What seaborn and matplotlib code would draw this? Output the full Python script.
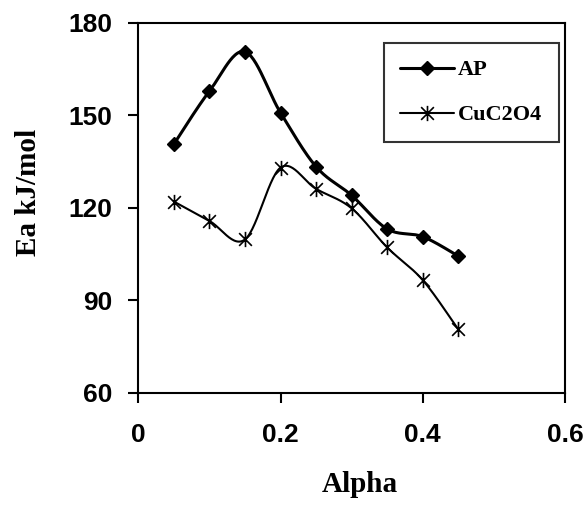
import numpy as np
import pandas as pd
import matplotlib
matplotlib.use("Agg")
import matplotlib.pyplot as plt
from matplotlib.path import Path
from matplotlib.lines import Line2D
import seaborn as sns

# values
alpha = [0.05, 0.10, 0.15, 0.20, 0.25, 0.30, 0.35, 0.40, 0.45]
ea_ap = [140.6, 157.8, 170.6, 150.8, 133.3, 124.0, 113.1, 110.6, 104.3]
ea_cuc2o4 = [122.0, 115.7, 109.7, 133.0, 126.1, 119.8, 107.1, 96.5, 80.5]

x_ticks = [0, 0.2, 0.4, 0.6]
x_tick_labels = ["0", "0.2", "0.4", "0.6"]
y_ticks = [60, 90, 120, 150, 180]


def smooth(xs, ys, n=30):
    # Excel-style smoothed line (Catmull-Rom through the points)
    p = np.column_stack([xs, ys]).astype(float)
    p = np.vstack([p[0], p, p[-1]])
    out = []
    t = np.linspace(0, 1, n)[:, None]
    for i in range(1, len(p) - 2):
        p0, p1, p2, p3 = p[i - 1], p[i], p[i + 1], p[i + 2]
        c1 = p1 + (p2 - p0) / 6
        c2 = p2 - (p3 - p1) / 6
        seg = ((1 - t) ** 3) * p1 + 3 * ((1 - t) ** 2) * t * c1 \
            + 3 * (1 - t) * t ** 2 * c2 + t ** 3 * p2
        out.append(seg if i == 1 else seg[1:])
    out = np.vstack(out)
    return pd.DataFrame({"x": out[:, 0], "y": out[:, 1]})


sns.set_style("ticks")
plt.rcParams["font.family"] = ["Liberation Sans", "DejaVu Sans"]
plt.rcParams["text.color"] = "black"
plt.rcParams["axes.labelcolor"] = "black"

# X with a vertical bar, like Excel's star marker
star = Path([(-1, -1), (1, 1), (-1, 1), (1, -1), (0, -1.2), (0, 1.2)],
            [Path.MOVETO, Path.LINETO, Path.MOVETO, Path.LINETO,
             Path.MOVETO, Path.LINETO])

fig = plt.figure(figsize=(5.84, 5.05), dpi=100)
ax = fig.add_axes([0.2368, 0.2224, 0.7307, 0.7326])

sns.lineplot(data=smooth(alpha, ea_ap), x="x", y="y", sort=False,
             estimator=None, color="black", linewidth=2.2, ax=ax)
sns.lineplot(data=smooth(alpha, ea_cuc2o4), x="x", y="y", sort=False,
             estimator=None, color="black", linewidth=1.5, ax=ax)
ax.plot(alpha, ea_ap, linestyle="none", marker="D", markersize=7,
        color="black")
ax.plot(alpha, ea_cuc2o4, linestyle="none", marker=star, markersize=11,
        markeredgewidth=1.2, color="black", markerfacecolor="none")

ax.set_xlim(0, 0.6)
ax.set_ylim(60, 180)
ax.set_xticks(x_ticks)
ax.set_xticklabels(x_tick_labels)
ax.set_yticks(y_ticks)
ax.tick_params(direction="out", length=7, width=1.5, labelsize=19,
               colors="black")
ax.tick_params(axis="x", pad=15)
ax.tick_params(axis="y", pad=12)
for lab in ax.get_xticklabels() + ax.get_yticklabels():
    lab.set_fontweight("bold")
for s in ax.spines.values():
    s.set_linewidth(1.5)
    s.set_color("black")

serif = ["Liberation Serif", "DejaVu Serif"]
ax.set_xlabel("Alpha", family=serif, fontweight="bold", fontsize=21,
              color="black")
ax.set_ylabel("Ea kJ/mol", family=serif, fontweight="bold", fontsize=21,
              color="black")
ax.xaxis.set_label_coords(0.52, -0.213)
ax.yaxis.set_label_coords(-0.225, 0.54)

handles = [
    Line2D([], [], color="black", linewidth=2.2, marker="D", markersize=7),
    Line2D([], [], color="black", linewidth=1.5, marker=star, markersize=11,
           markeredgewidth=1.2, markerfacecolor="none"),
]
leg = ax.legend(handles, ["AP", "CuC2O4"], loc="upper right",
                bbox_to_anchor=(0.986, 0.945), borderaxespad=0,
                frameon=True, fancybox=False,
                edgecolor="black", handlelength=2.4, handletextpad=0.2,
                labelspacing=1.1, borderpad=0.75,
                prop={"family": serif, "weight": "bold", "size": 16})
leg.get_frame().set_linewidth(1.5)
for t in leg.get_texts():
    t.set_color("black")

fig.savefig("out.png", dpi=100)
